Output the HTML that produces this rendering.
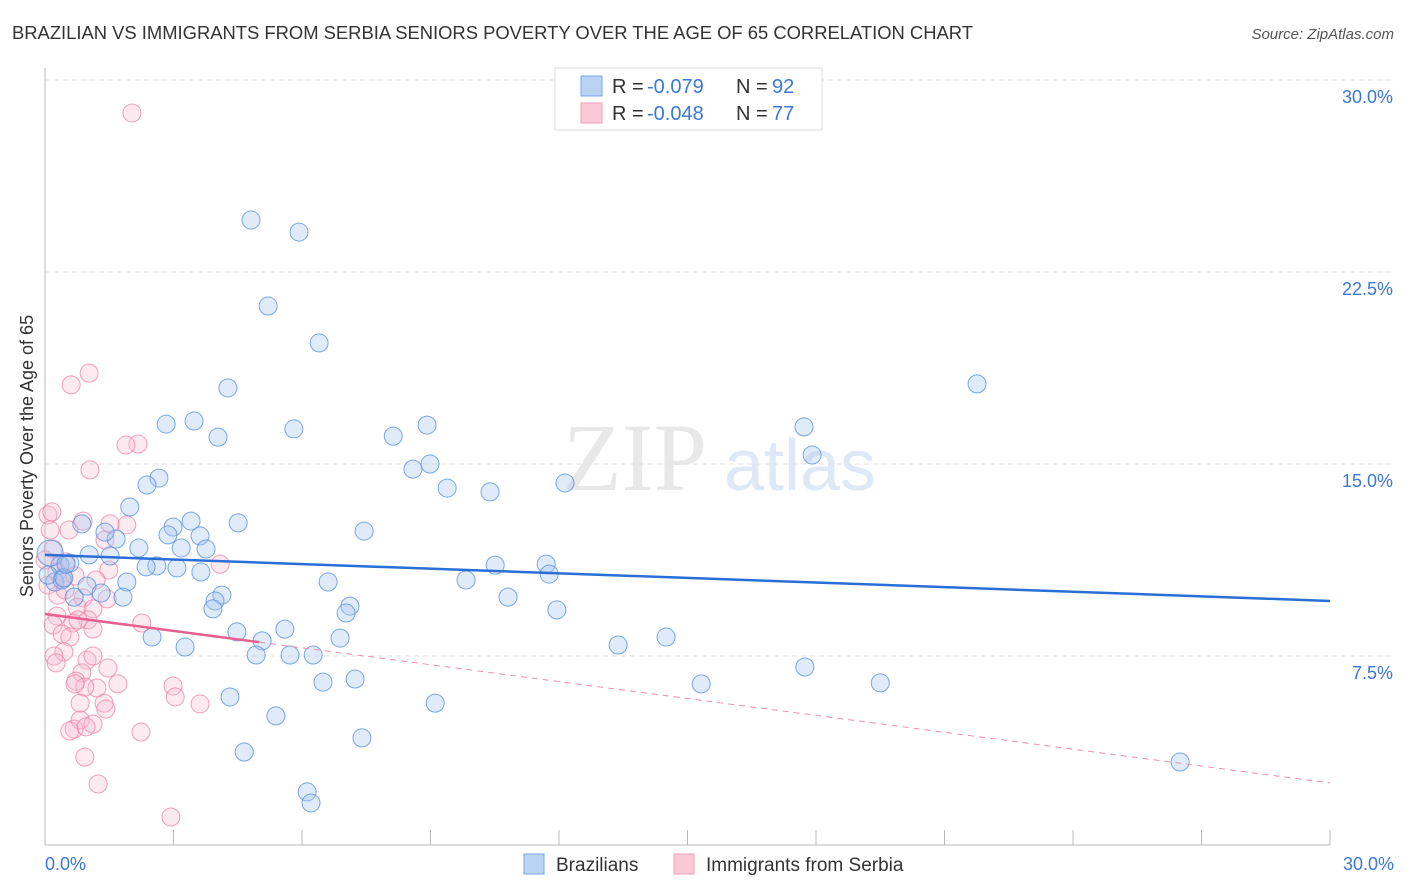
<!DOCTYPE html>
<html><head><meta charset="utf-8"><style>
body{margin:0;background:#fff;font-family:"Liberation Sans",sans-serif;}
#wrap{position:relative;width:1406px;height:892px;overflow:hidden;}
</style></head><body>
<div id="wrap">
<svg id="svg" width="1406" height="892" xmlns="http://www.w3.org/2000/svg">
<text x="12" y="39" font-size="18.4" fill="#333">BRAZILIAN VS IMMIGRANTS FROM SERBIA SENIORS POVERTY OVER THE AGE OF 65 CORRELATION CHART</text>
<text x="1394" y="39" font-size="15" fill="#555" font-style="italic" text-anchor="end">Source: ZipAtlas.com</text>
<text x="33" y="456" font-size="18" fill="#333" text-anchor="middle" transform="rotate(-90 33 456)">Seniors Poverty Over the Age of 65</text>
<g>
<text x="635" y="490" font-size="96" fill="#e8e8e8" font-family="Liberation Serif,serif" text-anchor="middle">ZIP</text>
<text x="800" y="490" font-size="72" fill="#dfe8f6" text-anchor="middle">atlas</text>
</g>
<g id="grid"></g><g id="axes"></g><g id="pts"></g><g id="trend"></g>
<g>
<rect x="555" y="68" width="267" height="62" fill="#fff" stroke="#ddd"/>
<rect x="581" y="76" width="21" height="20" fill="#b9d3f5" stroke="#7aa6e6"/>
<rect x="581" y="103" width="21" height="20" fill="#fbc8d8" stroke="#f2a0ba"/>
<text x="612" y="93" font-size="20" fill="#333">R =</text>
<text x="647" y="93" font-size="20" fill="#3b78d8">-0.079</text>
<text x="736" y="93" font-size="20" fill="#333">N =</text>
<text x="772" y="93" font-size="20" fill="#3b78d8">92</text>
<text x="612" y="120" font-size="20" fill="#333">R =</text>
<text x="647" y="120" font-size="20" fill="#3b78d8">-0.048</text>
<text x="736" y="120" font-size="20" fill="#333">N =</text>
<text x="772" y="120" font-size="20" fill="#3b78d8">77</text>
</g>
<g>
<rect x="524" y="854" width="20" height="20" fill="#b9d3f5" stroke="#7aa6e6"/>
<text x="556" y="871" font-size="19" fill="#333">Brazilians</text>
<rect x="674" y="854" width="20" height="20" fill="#fbc8d8" stroke="#f2a0ba"/>
<text x="706" y="871" font-size="19" fill="#333">Immigrants from Serbia</text>
</g>
</svg>
</div>
<script>
const yTicks=[7.5,15,22.5,30];
const yTickLabels=["7.5%","15.0%","22.5%","30.0%"];
const xTickLabels=["0.0%","30.0%"];
const blueX=[4.81,5.93,5.21,6.40,4.27,21.76,3.48,2.83,4.04,5.81,8.13,8.92,17.72,17.91,8.59,8.99,9.39,10.39,12.14,2.66,2.38,1.98,0.86,3.41,4.51,2.99,7.45,2.87,3.62,1.66,1.40,2.19,3.18,3.76,1.03,1.52,0.35,0.58,2.61,3.08,3.64,2.36,11.70,10.51,11.77,6.61,9.83,1.91,0.23,0.40,0.98,0.68,1.31,1.82,4.13,3.97,3.92,7.12,7.03,10.81,11.95,2.50,4.48,5.60,6.89,14.50,13.38,3.27,5.07,4.93,5.72,6.26,17.74,6.49,7.24,15.32,19.50,4.32,9.11,5.39,4.65,7.40,6.12,6.21,26.50,0.12,0.07,0.44,0.49];
const blueY=[24.53,24.06,21.17,19.73,17.97,18.13,16.68,16.56,16.05,16.37,16.09,16.52,16.45,15.35,14.80,15.00,14.06,13.91,14.26,14.45,14.18,13.32,12.66,12.77,12.70,12.54,12.38,12.23,12.19,12.07,12.34,11.72,11.72,11.68,11.45,11.41,11.05,11.13,11.02,10.94,10.78,10.98,11.09,11.05,10.70,10.39,10.47,10.39,10.39,10.47,10.23,9.80,9.96,9.80,9.88,9.65,9.34,9.45,9.18,9.80,9.30,8.24,8.44,8.55,8.20,8.24,7.93,7.85,8.09,7.54,7.54,7.54,7.07,6.48,6.60,6.41,6.45,5.90,5.66,5.16,3.75,4.30,2.19,1.76,3.36,11.52,10.66,10.55,11.09];
const pinkX=[2.03,1.03,0.61,2.17,1.89,1.05,0.07,0.12,0.56,1.91,0.89,1.52,0.19,0.0,0.35,0.49,0.28,0.42,0.70,0.07,1.40,4.09,1.49,1.19,0.30,0.89,1.45,0.75,1.12,0.28,1.00,0.65,0.19,1.12,0.40,0.58,2.26,0.77,0.44,0.21,0.98,1.12,1.47,0.26,0.86,0.72,1.21,0.93,0.70,1.70,2.99,3.04,3.62,0.82,1.38,1.42,0.82,1.12,0.68,0.58,0.96,2.24,0.93,1.24,2.94,0.16,0.47];
const pinkY=[28.71,18.55,18.09,15.78,15.74,14.77,13.01,12.42,12.42,12.62,12.77,12.66,11.68,11.25,11.05,11.17,10.78,10.55,10.63,10.27,12.03,11.09,10.86,10.47,9.88,9.77,9.73,9.41,9.34,9.06,8.91,8.79,8.71,8.55,8.36,8.24,8.79,8.91,7.66,7.50,7.34,7.50,7.03,7.23,6.84,6.52,6.25,6.29,6.41,6.41,6.33,5.90,5.63,5.66,5.66,5.43,5.00,4.84,4.65,4.57,4.73,4.53,3.55,2.50,1.21,13.13,10.08];
const blueTrend=[11.45,9.65];
const pinkTrend=[9.14,2.54];
const pinkSolidEnd=5;
const NS="http://www.w3.org/2000/svg";
const X=v=>45+v*(1285/30);
const Y=v=>848-v*25.6;
function mk(tag,attrs,parent){const e=document.createElementNS(NS,tag);for(const k in attrs)e.setAttribute(k,attrs[k]);parent.appendChild(e);return e;}
const grid=document.getElementById('grid'),axes=document.getElementById('axes'),pts=document.getElementById('pts'),tr=document.getElementById('trend');
yTicks.forEach((t,i)=>{
 const l=mk('line',{x1:45,x2:1394,y1:Y(t),y2:Y(t),stroke:'#e2e2e2','stroke-dasharray':'5,4'},grid);
 
 
 const tx=mk('text',{x:1393,y:Y(t)+23,'font-size':18,fill:'#3b78d8','text-anchor':'end'},axes);
 tx.textContent=yTickLabels[i];
 
 
});
const ax=mk('line',{x1:45,x2:1330,y1:845,y2:845,stroke:'#bbb'},axes);


const ay=mk('line',{x1:45,x2:45,y1:68,y2:845,stroke:'#bbb'},axes);


for(let i=0;i<=10;i++){const t=mk('line',{x1:X(i*3),x2:X(i*3),y1:830,y2:845,stroke:'#bbb'},axes);
 
 }
[[0,'start',45],[30,'end',1394]].forEach((d,i)=>{const t=mk('text',{x:d[2],y:870,'font-size':18,fill:'#3b78d8','text-anchor':d[1]},axes);t.textContent=xTickLabels[i];
 
 });
function dots(xs,ys,fill,stroke,name){xs.forEach((x,i)=>{
 const r=(name==='brazilian-point'&&i===85)?13:9;
 const c=mk('circle',{cx:X(x),cy:Y(ys[i]),r:r,fill:fill,stroke:stroke,'stroke-width':1},pts);
 
 });}
dots(pinkX,pinkY,'rgba(248,185,208,0.3)','rgba(236,130,166,0.75)','serbia-point');
dots(blueX,blueY,'rgba(165,198,240,0.35)','rgba(80,140,220,0.75)','brazilian-point');
const bl=mk('line',{x1:X(0),y1:Y(blueTrend[0]),x2:X(30),y2:Y(blueTrend[1]),stroke:'#2a6fd6','stroke-width':2.5},tr);


const pv=x=>pinkTrend[0]+(pinkTrend[1]-pinkTrend[0])*x/30;
const ps=mk('line',{x1:X(0),y1:Y(pv(0)),x2:X(pinkSolidEnd),y2:Y(pv(pinkSolidEnd)),stroke:'#e8608f','stroke-width':2.5},tr);


const pd=mk('line',{x1:X(pinkSolidEnd),y1:Y(pv(pinkSolidEnd)),x2:X(30),y2:Y(pv(30)),stroke:'#eb8fae','stroke-width':1,'stroke-dasharray':'6,5'},tr);


</script>
</body></html>
